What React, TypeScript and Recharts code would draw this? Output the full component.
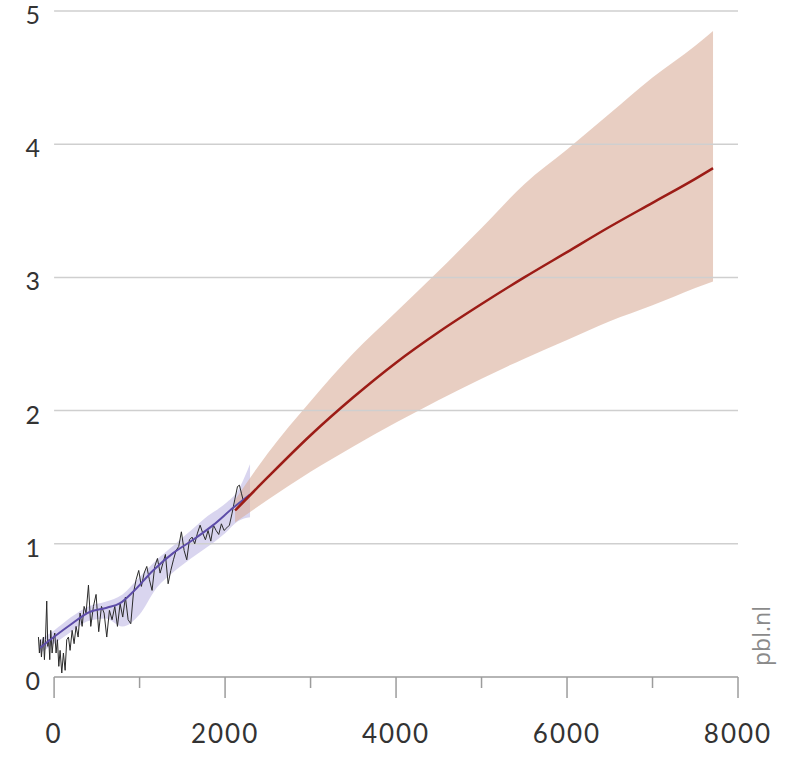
import { Area, ComposedChart, Line, ReferenceLine, XAxis, YAxis } from "recharts";

// observed annual temperature vs cumulative emissions (noisy black line)
const obsX = [
  -183, -172, -160, -148, -136, -125, -113, -101, -86, -74, -62, -51, -39, -23, -8, 8, 23, 39, 55, 70,
  90, 109, 129, 148, 168, 187, 211, 234, 257, 281, 304, 328, 351, 374, 402, 429, 460, 491, 522, 554,
  585, 616, 647, 678, 710, 741, 772, 803, 834, 866, 897, 928, 959, 990, 1021, 1053, 1084, 1115, 1146,
  1177, 1209, 1240, 1271, 1302, 1334, 1365, 1396, 1427, 1458, 1489, 1521, 1552, 1583, 1614, 1645,
  1677, 1708, 1739, 1770, 1801, 1833, 1864, 1895, 1926, 1957, 1988, 2020, 2051, 2082, 2113, 2145,
  2168, 2191, 2215, 2238,
];
const obsY = [
  0.3, 0.18, 0.28, 0.15, 0.25, 0.3, 0.13, 0.28, 0.57, 0.23, 0.28, 0.13, 0.35, 0.18, 0.28, 0.33, 0.18,
  0.28, 0.08, 0.2, 0.03, 0.18, 0.05, 0.28, 0.3, 0.2, 0.35, 0.25, 0.38, 0.3, 0.48, 0.38, 0.53, 0.48,
  0.69, 0.38, 0.53, 0.62, 0.34, 0.53, 0.48, 0.3, 0.5, 0.43, 0.53, 0.38, 0.55, 0.45, 0.6, 0.43, 0.4,
  0.63, 0.73, 0.8, 0.68, 0.78, 0.83, 0.73, 0.65, 0.83, 0.89, 0.78, 0.85, 0.92, 0.7, 0.8, 0.88, 0.95,
  0.98, 1.09, 0.95, 0.88, 1.03, 1.05, 1.0, 1.08, 1.14, 1.08, 1.03, 1.1, 1.02, 1.14, 1.1, 1.07, 1.15,
  1.1, 1.12, 1.14, 1.23, 1.33, 1.43, 1.44, 1.38, 1.32, 1.34,
];

// smoothed observation trend and its uncertainty band
const trendX = [-164, 187, 421, 616, 772, 924, 1158, 1392, 1626, 1860, 2094, 2292];
const trendY = [0.22, 0.39, 0.49, 0.52, 0.555, 0.64, 0.8, 0.93, 1.03, 1.14, 1.27, 1.37];
const trendBandX = [-164, 0, 200, 400, 600, 800, 1000, 1200, 1400, 1600, 1800, 2000, 2150, 2292];
const trendLow = [0.18, 0.25, 0.34, 0.42, 0.44, 0.38, 0.47, 0.67, 0.79, 0.89, 0.98, 1.08, 1.17, 1.2];
const trendHigh = [0.28, 0.35, 0.45, 0.53, 0.565, 0.62, 0.75, 0.88, 0.99, 1.1, 1.21, 1.3, 1.4, 1.6];

// projection
const projX = [2117, 2500, 3000, 3500, 4000, 4500, 5000, 5500, 6000, 6500, 7000, 7500, 7708];
const projMid = [1.25, 1.5, 1.815, 2.1, 2.36, 2.59, 2.8, 3.0, 3.19, 3.38, 3.56, 3.74, 3.82];
const projLow = [1.16, 1.33, 1.54, 1.73, 1.91, 2.08, 2.24, 2.39, 2.53, 2.67, 2.79, 2.92, 2.97];
const projHigh = [1.33, 1.68, 2.07, 2.43, 2.74, 3.05, 3.37, 3.7, 3.96, 4.23, 4.5, 4.74, 4.85];

const xTicks = [0, 1000, 2000, 3000, 4000, 5000, 6000, 7000, 8000];
const yTicks = [0, 1, 2, 3, 4, 5];
const gridValues = [1, 2, 3, 4, 5];

const obsData = obsX.map((x, i) => ({ x, y: obsY[i] }));
const trendData = trendX.map((x, i) => ({ x, y: trendY[i] }));
const trendBand = trendBandX.map((x, i) => ({ x, range: [trendLow[i], trendHigh[i]] }));
const projLine = projX.map((x, i) => ({ x, y: projMid[i] }));
const projBand = projX.map((x, i) => ({ x, range: [projLow[i], projHigh[i]] }));

const FONT = "Lato, 'Open Sans', sans-serif";

function XTick(props: any) {
  const { x, y, payload } = props;
  const v = payload.value as number;
  const major = v % 2000 === 0;
  return (
    <g>
      <line x1={x} x2={x} y1={y} y2={y + (major ? 21 : 11)} stroke="#9c9c9c" strokeWidth={1.5} />
      {major && (
        <text x={x} y={y + 66} textAnchor="middle" fontSize={26} fill="#333" fontFamily={FONT} letterSpacing={2}>
          {v}
        </text>
      )}
    </g>
  );
}

function YTick(props: any) {
  const { x, y, payload } = props;
  return (
    <text x={x + 3} y={y} dy={13} textAnchor="end" fontSize={25} fill="#333" fontFamily={FONT}>
      {payload.value}
    </text>
  );
}

export default function App() {
  return (
    <div style={{ position: "absolute", left: 0, top: 0, width: 794, height: 757, background: "#fff" }}>
      <ComposedChart width={794} height={757} margin={{ top: 11, right: 56, bottom: 0, left: 7 }}>
        <XAxis
          type="number"
          dataKey="x"
          domain={[-200, 8000]}
          ticks={xTicks}
          height={80}
          axisLine={false}
          tickLine={false}
          tickSize={0}
          tickMargin={0}
          tick={(p: any) => <XTick {...p} />}
        />
        <YAxis
          type="number"
          domain={[0, 5]}
          ticks={yTicks}
          width={30}
          axisLine={false}
          tickLine={false}
          tickSize={0}
          tickMargin={0}
          tick={(p: any) => <YTick {...p} />}
        />
        {gridValues.map((g) => (
          <ReferenceLine
            key={g}
            segment={[
              { x: 0, y: g },
              { x: 8000, y: g },
            ]}
            stroke="#cfcfcf"
            strokeWidth={1.5}
          />
        ))}
        <ReferenceLine
          segment={[
            { x: 0, y: 0 },
            { x: 8000, y: 0 },
          ]}
          stroke="#9c9c9c"
          strokeWidth={1.5}
        />
        <Area
          data={trendBand}
          dataKey="range"
          type="monotone"
          stroke="none"
          fill="rgb(160,150,215)"
          fillOpacity={0.4}
          isAnimationActive={false}
          dot={false}
          activeDot={false}
        />
        <Area
          data={projBand}
          dataKey="range"
          type="monotone"
          stroke="none"
          fill="rgb(217,173,153)"
          fillOpacity={0.6}
          isAnimationActive={false}
          dot={false}
          activeDot={false}
        />
        <Line
          data={obsData}
          dataKey="y"
          type="linear"
          stroke="#2a2a2a"
          strokeWidth={1}
          dot={false}
          activeDot={false}
          isAnimationActive={false}
        />
        <Line
          data={trendData}
          dataKey="y"
          type="monotone"
          stroke="#5d4ca8"
          strokeWidth={2}
          dot={false}
          activeDot={false}
          isAnimationActive={false}
        />
        <Line
          data={projLine}
          dataKey="y"
          type="monotone"
          stroke="#9c1c16"
          strokeWidth={2.5}
          dot={false}
          activeDot={false}
          isAnimationActive={false}
        />
      </ComposedChart>
      <div
        style={{
          position: "absolute",
          left: 761,
          top: 636,
          transform: "translate(-50%, -50%) rotate(-90deg)",
          fontFamily: "'Open Sans', sans-serif",
          fontSize: 23,
          color: "#8a8a8a",
          whiteSpace: "nowrap",
          lineHeight: 1,
        }}
      >
        pbl.nl
      </div>
    </div>
  );
}
